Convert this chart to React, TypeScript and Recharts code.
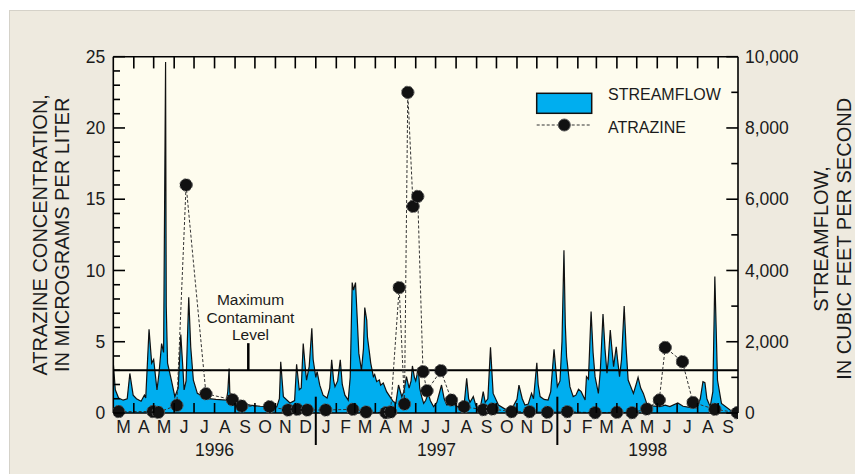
import React from 'react';
import {
  ComposedChart,
  Area,
  Line,
  XAxis,
  YAxis,
  CartesianGrid,
  ReferenceLine,
  Legend,
  Label,
} from 'recharts';

// ---- data (days since 1 March 1996) ----
const flowDays = [0,3,8,15,21,25,30,35,42,47,49,54,58,61,66,69,73,76,79,80,82,88,93,98,102,105,107,110,114,117,121,127,141,155,171,173,175,176,179,191,207,222,237,247,251,253,257,267,274,277,281,284,287,290,292,296,300,302,306,308,312,317,323,327,330,333,335,339,343,346,350,355,358,361,363,366,369,371,375,378,380,383,384,387,389,393,395,398,402,404,408,413,418,423,427,431,436,439,443,447,450,452,455,457,461,463,466,469,472,476,479,484,489,496,500,504,509,514,518,524,530,534,537,539,544,548,554,559,562,566,570,574,582,592,602,610,613,618,622,627,632,635,640,642,645,651,657,661,666,671,675,678,681,683,685,690,695,699,703,707,713,715,718,722,725,728,733,736,740,743,746,748,751,753,756,760,762,765,768,772,775,778,786,790,793,797,801,806,815,826,834,841,853,861,871,882,887,891,894,897,902,906,909,913,919,932,944];
const flowCfs = [1400,650,420,360,400,1110,500,400,330,500,420,2350,1400,1500,650,1100,1950,1700,9850,3000,1400,900,460,700,2200,1300,650,900,3250,1850,920,550,410,380,360,600,1250,600,320,270,220,190,180,170,400,1440,460,280,350,1370,650,700,1950,1300,920,1300,2380,1500,1000,1160,780,500,420,700,1490,900,740,900,1490,800,500,360,1000,3660,3450,3660,2500,1680,1200,1800,2960,2600,2140,1700,1400,1020,1080,880,930,780,840,600,460,320,280,785,460,600,1020,700,900,1320,1000,900,1250,700,460,270,350,550,350,177,300,785,400,225,250,365,200,130,200,975,400,300,460,200,85,600,300,400,1845,550,225,110,110,385,785,400,225,250,550,400,1410,800,460,380,365,600,1790,740,900,2000,4570,2500,1580,740,460,500,665,600,365,1020,950,2845,1700,1020,550,1200,2780,1800,1115,1500,2330,1900,1300,1860,1500,1020,1500,3000,1800,925,550,800,1000,700,550,270,200,180,220,180,280,190,160,150,400,880,850,400,177,600,3830,925,270,85,40];

const atrazineDays = [8,60,68,96,110,140,180,194,236,264,278,293,321,362,382,412,419,432,440,445,453,460,468,474,495,511,530,559,573,602,629,656,686,728,761,784,806,825,834,860,876,909,943];
const atrazineUgL = [0.1,0.1,0.05,0.54,16.0,1.35,0.93,0.49,0.44,0.21,0.26,0.21,0.21,0.26,0.07,0.02,0.07,8.8,0.63,22.5,14.5,15.2,2.9,1.56,2.97,0.91,0.44,0.23,0.28,0.09,0.09,0.05,0.09,0.02,0.05,0.02,0.28,0.91,4.6,3.6,0.74,0.26,0.02];

const monthStarts = [0,31,61,92,122,153,184,214,245,275,306,337,365,396,426,457,487,518,549,579,610,640,671,702,730,761,791,822,852,883,914,944];
const monthLabels = ['M','A','M','J','J','A','S','O','N','D','J','F','M','A','M','J','J','A','S','O','N','D','J','F','M','A','M','J','J','A','S'];
const yearStarts = [0,306,671,944];
const yearLabels = ['1996','1997','1998'];

const concTicks = [0,1,2,3,4,5,6,7,8,9,10,11,12,13,14,15,16,17,18,19,20,21,22,23,24,25];
const flowTicks = [0,1000,2000,3000,4000,5000,6000,7000,8000,9000,10000];
const mclValue = 3;
const mclMarkerDay = 204;
const mclMarkerTop = 4.9;

// ---- derived tables ----
const flowData = flowDays.map((d, i) => ({ day: d, flow: flowCfs[i] }));
const atrazineData = atrazineDays.map((d, i) => ({ day: d, atrazine: atrazineUgL[i] }));
const monthMids = monthLabels.map((_, i) => (monthStarts[i] + monthStarts[i + 1]) / 2);
const yearMids = yearLabels.map((_, i) => (yearStarts[i] + yearStarts[i + 1]) / 2);
const bottomTicks = Array.from(new Set([...monthStarts, ...monthMids, ...yearMids])).sort((a, b) => a - b);

// ---- styling ----
const FONT = '"Liberation Sans", Arial, Helvetica, sans-serif';
const INK = '#1b1b1b';
const BLUE = '#00AEEF';
const PLOT_BG = '#FEFCEE';
const PANEL_BG = '#EEEADF';
const PLOT_H = 356.3;

function BottomTick(props: any) {
  const { x, y, payload } = props;
  const v = payload.value;
  const els: any[] = [];
  const bi = monthStarts.indexOf(v);
  if (bi > 0 && bi < monthStarts.length - 1) {
    if (yearStarts.includes(v)) {
      els.push(<line key="ys" x1={x} x2={x} y1={y - 16.3} y2={y + 32} stroke="#000" strokeWidth={2} />);
    } else {
      els.push(<line key="bt" x1={x} x2={x} y1={y} y2={y - 10} stroke="#000" strokeWidth={1.6} />);
    }
    els.push(<line key="tt" x1={x} x2={x} y1={y - PLOT_H} y2={y - PLOT_H + 11.7} stroke="#000" strokeWidth={1.6} />);
  }
  const mi = monthMids.indexOf(v);
  if (mi >= 0) {
    els.push(
      <text key="ml" x={x} y={y + 20.3} textAnchor="middle" fontSize={17.5} fontFamily={FONT} fill={INK}>
        {monthLabels[mi]}
      </text>
    );
  }
  const yi = yearMids.indexOf(v);
  if (yi >= 0) {
    els.push(
      <text key="yl" x={x} y={y + 43} textAnchor="middle" fontSize={17.5} fontFamily={FONT} fill={INK}>
        {yearLabels[yi]}
      </text>
    );
  }
  return <g>{els}</g>;
}

function LeftTick(props: any) {
  const { x, y, payload } = props;
  const v = payload.value;
  const major = v % 5 === 0;
  return (
    <g>
      <line x1={x} x2={x + (major ? 11.7 : 6.7)} y1={y} y2={y} stroke="#000" strokeWidth={1.6} />
      {major && (
        <text x={x - 8} y={y + 6.2} textAnchor="end" fontSize={17.5} fontFamily={FONT} fill={INK}>
          {v}
        </text>
      )}
    </g>
  );
}

function RightTick(props: any) {
  const { x, y, payload } = props;
  const v = payload.value;
  const major = v % 2000 === 0;
  return (
    <g>
      <line x1={x} x2={x - (major ? 11.7 : 6.7)} y1={y} y2={y} stroke="#000" strokeWidth={1.6} />
      {major && (
        <text x={x + 7} y={y + 6.2} textAnchor="start" fontSize={17.5} fontFamily={FONT} fill={INK}>
          {v.toLocaleString('en-US')}
        </text>
      )}
    </g>
  );
}

function LeftTitle(props: any) {
  const vb = props.viewBox || { x: 45.3, y: 48.7, width: 60, height: 356.3 };
  const cy = vb.y + vb.height / 2;
  const b1 = vb.x - 6.1;
  const b2 = vb.x + 15.9;
  return (
    <g fontFamily={FONT} fontSize={20} fill={INK}>
      <text x={b1} y={cy} textAnchor="middle" transform={`rotate(-90 ${b1} ${cy})`}>ATRAZINE CONCENTRATION,</text>
      <text x={b2} y={cy} textAnchor="middle" transform={`rotate(-90 ${b2} ${cy})`}>IN MICROGRAMS PER LITER</text>
    </g>
  );
}

function RightTitle(props: any) {
  const vb = props.viewBox || { x: 730, y: 48.7, width: 60, height: 356.3 };
  const cy = vb.y + vb.height / 2 + 4;
  const b1 = vb.x + 90.2;
  const b2 = vb.x + 112.7;
  return (
    <g fontFamily={FONT} fontSize={20} fill={INK}>
      <text x={b1} y={cy} textAnchor="middle" transform={`rotate(-90 ${b1} ${cy})`}>STREAMFLOW,</text>
      <text x={b2} y={cy} textAnchor="middle" transform={`rotate(-90 ${b2} ${cy})`}>IN CUBIC FEET PER SECOND</text>
    </g>
  );
}

function MclLabel(props: any) {
  const vb = props.viewBox || { x: 240.3, y: 335 };
  const cx = vb.x + 2.2;
  const top = vb.y;
  return (
    <g fontFamily={FONT} fontSize={15.5} fill={INK} textAnchor="middle">
      <text x={cx} y={top - 38}>Maximum</text>
      <text x={cx} y={top - 20.5}>Contaminant</text>
      <text x={cx} y={top - 3.5}>Level</text>
    </g>
  );
}

function LegendBox() {
  return (
    <svg width={200} height={60} style={{ display: 'block', overflow: 'visible' }}>
      <rect x={8.7} y={5.3} width={55} height={20} fill={BLUE} stroke="#111" strokeWidth={1.5} />
      <text x={80} y={12} fontSize={16} fontFamily={FONT} fill={INK}>STREAMFLOW</text>
      <line x1={8.7} x2={63.7} y1={37} y2={37} stroke="#333" strokeWidth={1} strokeDasharray="3 2" />
      <circle cx={36.3} cy={37} r={6} fill="#111" stroke="#555" strokeWidth={1} />
      <text x={80} y={45.3} fontSize={16} fontFamily={FONT} fill={INK}>ATRAZINE</text>
    </svg>
  );
}

export default function App() {
  return (
    <div style={{ position: 'relative', width: 855, height: 466 }}>
      <div
        style={{
          position: 'absolute',
          left: 1,
          top: 2,
          right: 0,
          bottom: 0,
          background: PANEL_BG,
          borderTop: '1px solid #D5D2C9',
          borderLeft: '1px solid #D5D2C9',
        }}
      />
      <div style={{ position: 'absolute', left: 0, top: 0 }}>
        <ComposedChart
          width={855}
          height={466}
          margin={{ top: 48.7, right: 65, bottom: 6, left: 45.3 }}
        >
          <CartesianGrid xAxisId="b" yAxisId="l" fill={PLOT_BG} stroke="none" horizontal={false} vertical={false} />
          <Area
            data={flowData}
            xAxisId="b"
            yAxisId="r"
            dataKey="flow"
            type="linear"
            fill={BLUE}
            fillOpacity={1}
            stroke="#111"
            strokeWidth={1.2}
            isAnimationActive={false}
            dot={false}
            activeDot={false}
          />
          <XAxis
            xAxisId="b"
            type="number"
            dataKey="day"
            domain={[0, 944]}
            ticks={bottomTicks}
            interval={0}
            tickSize={0}
            tickMargin={0}
            tickLine={false}
            tick={BottomTick}
            height={55}
            axisLine={{ stroke: '#000', strokeWidth: 1.6 }}
            allowDataOverflow
          />
          <YAxis
            yAxisId="l"
            orientation="left"
            type="number"
            domain={[0, 25]}
            ticks={concTicks}
            interval={0}
            tickSize={0}
            tickMargin={0}
            tickLine={false}
            tick={LeftTick}
            width={60}
            axisLine={{ stroke: '#000', strokeWidth: 1.6 }}
          >
            <Label content={LeftTitle} />
          </YAxis>
          <YAxis
            yAxisId="r"
            orientation="right"
            type="number"
            domain={[0, 10000]}
            ticks={flowTicks}
            interval={0}
            tickSize={0}
            tickMargin={0}
            tickLine={false}
            tick={RightTick}
            width={60}
            axisLine={{ stroke: '#000', strokeWidth: 1.6 }}
          >
            <Label content={RightTitle} />
          </YAxis>
          <ReferenceLine xAxisId="b" yAxisId="l" y={25} stroke="#000" strokeWidth={1.6} />
          <ReferenceLine xAxisId="b" yAxisId="l" y={mclValue} stroke="#000" strokeWidth={2} />
          <ReferenceLine
            xAxisId="b"
            yAxisId="l"
            segment={[
              { x: mclMarkerDay, y: mclValue },
              { x: mclMarkerDay, y: mclMarkerTop },
            ]}
            stroke="#000"
            strokeWidth={2.5}
            label={MclLabel}
          />
          <Line
            data={atrazineData}
            xAxisId="b"
            yAxisId="l"
            dataKey="atrazine"
            type="linear"
            stroke="#333"
            strokeWidth={1}
            strokeDasharray="3 2"
            dot={{ r: 6.2, fill: '#111', stroke: '#555', strokeWidth: 1 }}
            activeDot={false}
            isAnimationActive={false}
          />
          <Legend
            layout="horizontal"
            verticalAlign="middle"
            align="center"
            content={() => <LegendBox />}
            wrapperStyle={{ position: 'absolute', left: 520, top: 80, width: 200, height: 60, margin: 0, padding: 0 }}
          />
        </ComposedChart>
      </div>
    </div>
  );
}
